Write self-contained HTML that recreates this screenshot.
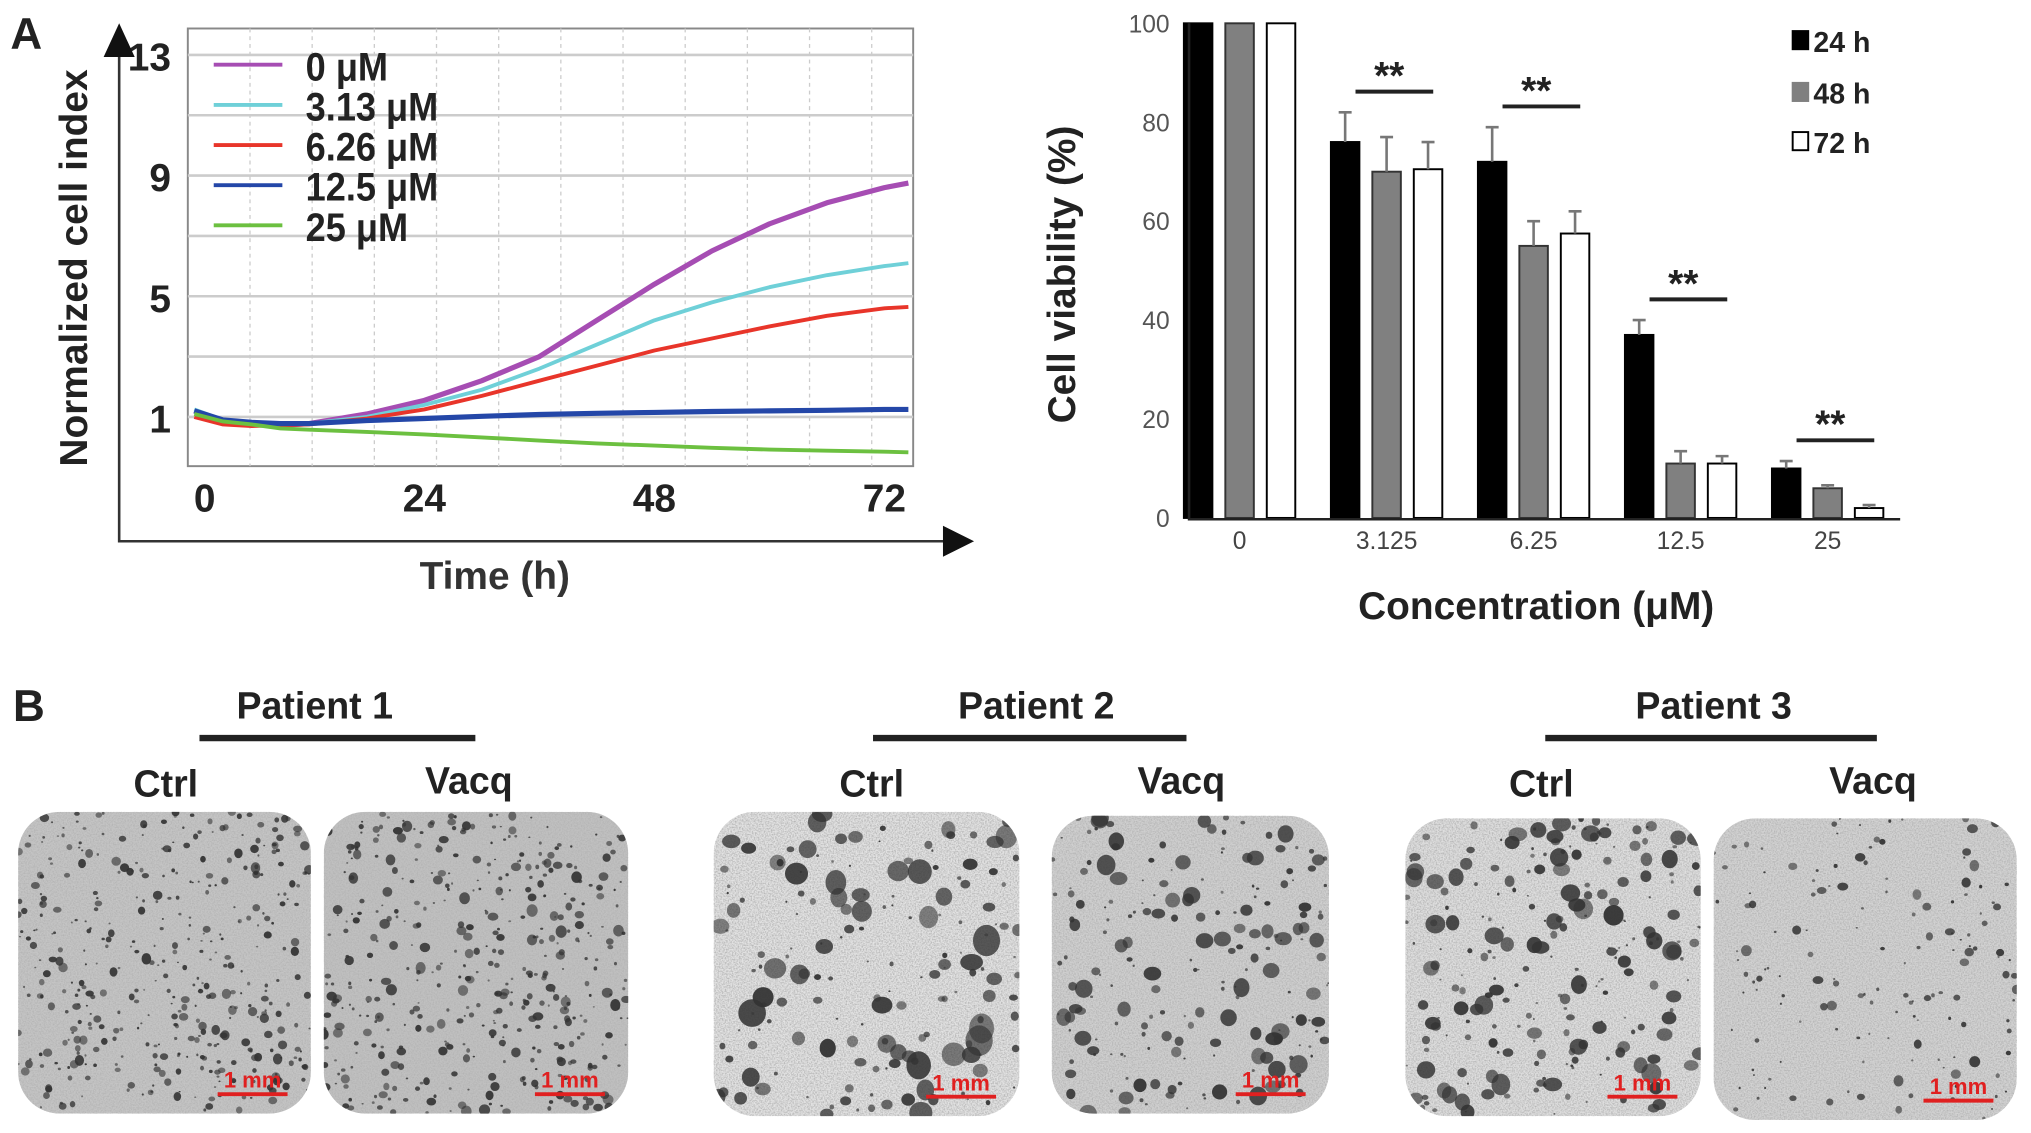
<!DOCTYPE html>
<html><head><meta charset="utf-8"><style>
html,body{margin:0;padding:0;background:#fff;}
svg{display:block;font-family:"Liberation Sans",Arial,sans-serif;}
</style></head><body>
<svg id="fig" width="2031" height="1133" viewBox="0 0 1568 875" preserveAspectRatio="none" xmlns="http://www.w3.org/2000/svg">
<defs>
<filter id="grain" x="0" y="0" width="100%" height="100%">
<feTurbulence type="fractalNoise" baseFrequency="0.9" numOctaves="2" seed="3" result="n"/>
<feColorMatrix type="matrix" values="0 0 0 0 0.45  0 0 0 0 0.45  0 0 0 0 0.45  0 0 0 -2.2 1.4"/>
</filter>
</defs>
<g id="panelA"></g>
<g id="bars"></g>
<g id="panelB"></g>
</svg>
<script>
// ---- Line chart data ----
const lineTimes = [0, 3, 6, 9, 12, 18, 24, 30, 36, 42, 48, 54, 60, 66, 72, 74.5];
const seriesNames = ["0 μM", "3.13 μM", "6.26 μM", "12.5 μM", "25 μM"];
const seriesColors = ["#a64db3", "#6fd0d8", "#e8352a", "#2447a8", "#6cc040"];
const s0 = [1.2, 0.85, 0.75, 0.72, 0.78, 1.1, 1.55, 2.2, 3.0, 4.2, 5.4, 6.5, 7.4, 8.1, 8.6, 8.75];
const s1 = [1.25, 0.9, 0.8, 0.75, 0.78, 1.0, 1.4, 1.9, 2.6, 3.4, 4.2, 4.8, 5.3, 5.7, 6.0, 6.1];
const s2 = [1.0, 0.75, 0.7, 0.72, 0.75, 0.95, 1.25, 1.7, 2.2, 2.7, 3.2, 3.6, 4.0, 4.35, 4.6, 4.65];
const s3 = [1.2, 0.9, 0.82, 0.78, 0.78, 0.88, 0.95, 1.02, 1.08, 1.12, 1.15, 1.18, 1.2, 1.22, 1.25, 1.25];
const s4 = [1.1, 0.85, 0.75, 0.62, 0.58, 0.5, 0.42, 0.32, 0.22, 0.12, 0.05, -0.02, -0.08, -0.12, -0.15, -0.17];
const lineTicksY = [1, 5, 9, 13];
const lineTicksX = [0, 24, 48, 72];
// ---- Bar chart data ----
const categories = ["0", "3.125", "6.25", "12.5", "25"];
const v24 = [100, 76, 72, 37, 10];
const v48 = [100, 70, 55, 11, 6];
const v72 = [100, 70.5, 57.5, 11, 2];
const e24 = [0, 6, 7, 3, 1.5];
const e48 = [0, 7, 5, 2.5, 0.6];
const e72 = [0, 5.5, 4.5, 1.5, 0.6];
const barTicks = [0, 20, 40, 60, 80, 100];
const sigCats = [1, 2, 3, 4];

const NS = "http://www.w3.org/2000/svg";
function mk(tag, attrs, parent, text) {
  const e = document.createElementNS(NS, tag);
  for (const k in attrs) e.setAttribute(k, attrs[k]);
  if (text !== undefined) e.textContent = text;
  parent.appendChild(e);
  return e;
}
const COND = "transform";
// ===== Panel A line chart =====
const A = document.getElementById("panelA");
const lx = t => 150 + t * 7.4;
const ly = v => 322 - (v - 1) * 23.3;
let t = mk("text", {x: 8, y: 38, "font-size": 34, "font-weight": "bold", fill: "#222"}, A, "A");
 
let fr = mk("rect", {x: 145, y: 22, width: 560, height: 338, fill: "#fff", stroke: "#888", "stroke-width": 1.5}, A);
 
for (let v = 1; v <= 13; v += 2) {
  const g = mk("line", {x1: 145, x2: 705, y1: ly(v), y2: ly(v), stroke: "#ccc", "stroke-width": 2}, A);
   
}
for (let k = 1; k < 12; k++) {
  const gx = 145 + k * 48;
  const g = mk("line", {x1: gx, x2: gx, y1: 22, y2: 360, stroke: "#ccc", "stroke-width": 1, "stroke-dasharray": "3,3"}, A);
   
}
const allS = [s0, s1, s2, s3, s4];
allS.forEach((s, i) => {
  const d = s.map((v, j) => (j ? "L" : "M") + lx(lineTimes[j]).toFixed(1) + "," + ly(v).toFixed(1)).join(" ");
  const p = mk("path", {d: d, fill: "none", stroke: seriesColors[i], "stroke-width": i === 0 || i === 3 ? 4 : 3, "stroke-linejoin": "round"}, A);
   
});
seriesNames.forEach((n, i) => {
  const yy = 50 + i * 31;
  const l = mk("line", {x1: 165, x2: 218, y1: yy, y2: yy, stroke: seriesColors[i], "stroke-width": 3}, A);
   
  const tx = mk("text", {x: 0, y: 0, "font-size": 31, "font-weight": "bold", fill: "#222", transform: `translate(236,${yy + 12}) scale(0.9,1)`}, A, n);
   
});
lineTicksY.forEach(v => {
  const tx = mk("text", {x: 132, y: ly(v) + 12, "font-size": 30, "font-weight": "bold", "text-anchor": "end", fill: "#222"}, A, v);
   
});
lineTicksX.forEach(v => {
  const tx = mk("text", {x: lx(v) + (v === 0 ? 8 : 0), y: 395, "font-size": 30, "font-weight": "bold", "text-anchor": "middle", fill: "#222"}, A, v);
   
});
let ax = mk("path", {d: "M92,42 L92,418 L735,418", fill: "none", stroke: "#333", "stroke-width": 2}, A);
 
mk("path", {d: "M80,44 L92,18 L104,44 Z", fill: "#111"}, A);
mk("path", {d: "M728,406 L752,418 L728,430 Z", fill: "#111"}, A);
t = mk("text", {x: 382, y: 455, "font-size": 30, "font-weight": "bold", "text-anchor": "middle", fill: "#333"}, A, "Time  (h)");
 
t = mk("text", {x: 0, y: 0, "font-size": 30, "font-weight": "bold", "text-anchor": "middle", fill: "#222", transform: "translate(67,207) rotate(-90)"}, A, "Normalized cell index");
 

// ===== Bar chart =====
const B = document.getElementById("bars");
const by = v => 400 - v * 3.82;
const bx = i => 957 + i * 113.5;
barTicks.forEach(v => {
  const tx = mk("text", {x: 903, y: by(v) + 7, "font-size": 19, "text-anchor": "end", fill: "#555"}, B, v);
   
});
const sets = [[v24, e24, "#000", "#000", "24h"], [v48, e48, "#808080", "#333", "48h"], [v72, e72, "#fff", "#000", "72h"]];
categories.forEach((c, i) => {
  sets.forEach((s, k) => {
    const cx = bx(i) + (k - 1) * 32;
    const v = s[0][i];
    const r = mk("rect", {x: cx - 11, y: by(v), width: 22, height: by(0) - by(v), fill: s[2], stroke: s[3], "stroke-width": 1.5}, B);
     
    if (s[1][i] > 0) {
      const ey = by(v + s[1][i]);
      const e = mk("path", {d: `M${cx},${by(v)} L${cx},${ey} M${cx - 5},${ey} L${cx + 5},${ey}`, stroke: "#777", "stroke-width": 2, fill: "none"}, B);
       
    }
  });
  const tx = mk("text", {x: bx(i), y: 424, "font-size": 19, "text-anchor": "middle", fill: "#444"}, B, c);
   
});
sigCats.forEach(i => {
  const top = Math.max(v24[i] + e24[i], v48[i] + e48[i], v72[i] + e72[i]);
  const yy = by(top) - 16;
  const l = mk("line", {x1: bx(i) - 24, x2: bx(i) + 36, y1: yy, y2: yy, stroke: "#222", "stroke-width": 3}, B);
   
  const s = mk("text", {x: bx(i) + 2, y: yy - 2, "font-size": 30, "font-weight": "bold", "text-anchor": "middle", fill: "#222"}, B, "**");
   
});
let bax = mk("path", {d: "M918,18 L918,401 L1467,401", fill: "none", stroke: "#222", "stroke-width": 2}, B);
 
[["#000", "#000", "24 h", 32], ["#808080", "#808080", "48 h", 72], ["#fff", "#000", "72 h", 110]].forEach(L => {
  const r = mk("rect", {x: 1384, y: L[3] - 8, width: 12, height: 14, fill: L[0], stroke: L[1], "stroke-width": 1.5}, B);
   
  const tx = mk("text", {x: 1400, y: L[3] + 8, "font-size": 22, "font-weight": "bold", fill: "#222"}, B, L[2]);
   
});
t = mk("text", {x: 1186, y: 478, "font-size": 30, "font-weight": "bold", "text-anchor": "middle", fill: "#222"}, B, "Concentration (μM)");
 
t = mk("text", {x: 0, y: 0, "font-size": 30, "font-weight": "bold", "text-anchor": "middle", fill: "#222", transform: "translate(830,212) rotate(-90)"}, B, "Cell viability (%)");
 

// ===== Panel B =====
const P = document.getElementById("panelB");
t = mk("text", {x: 10, y: 557, "font-size": 34, "font-weight": "bold", fill: "#222"}, P, "B");
 
const patients = [["Patient 1", 243, 154, 367, 128, 362], ["Patient 2", 800, 674, 916, 673, 912], ["Patient 3", 1323, 1193, 1449, 1190, 1446]];
patients.forEach(p => {
  let h = mk("text", {x: p[1], y: 555, "font-size": 29, "font-weight": "bold", "text-anchor": "middle", fill: "#222"}, P, p[0]);
   
  let l = mk("line", {x1: p[2], x2: p[3], y1: 570, y2: 570, stroke: "#222", "stroke-width": 5}, P);
   
  h = mk("text", {x: p[4], y: 615, "font-size": 29, "font-weight": "bold", "text-anchor": "middle", fill: "#222"}, P, "Ctrl");
   
  h = mk("text", {x: p[5], y: 613, "font-size": 29, "font-weight": "bold", "text-anchor": "middle", fill: "#222"}, P, "Vacq");
   
});
// x, y, w, h, dot count, max radius, bg
const wells = [[14, 627, 226, 233, 420, 3, "#c4c4c4"], [250, 627, 235, 233, 450, 3.5, "#c0c0c0"], [551, 627, 236, 235, 170, 10, "#e2e2e2"], [812, 630, 214, 230, 200, 6.5, "#cfcfcf"], [1085, 632, 228, 230, 230, 7, "#dedede"], [1323, 632, 234, 233, 150, 3.5, "#d2d2d2"]];
let seed = 7;
const rnd = () => { seed = (seed * 16807) % 2147483647; return seed / 2147483647; };
wells.forEach((w, i) => {
  const g = mk("g", {}, P);
   
  const cp = mk("clipPath", {id: "cp" + i}, g);
  mk("rect", {x: w[0], y: w[1], width: w[2], height: w[3], rx: 32}, cp);
  mk("rect", {x: w[0], y: w[1], width: w[2], height: w[3], fill: "#fff"}, g);
  const inner = mk("g", {"clip-path": `url(#cp${i})`}, g);
  mk("rect", {x: w[0], y: w[1], width: w[2], height: w[3], fill: w[6]}, inner);
  mk("rect", {x: w[0], y: w[1], width: w[2], height: w[3], filter: "url(#grain)"}, inner);
  for (let k = 0; k < w[4]; k++) {
    const r = 0.8 + Math.pow(rnd(), 2) * w[5];
    mk("ellipse", {cx: w[0] + rnd() * w[2], cy: w[1] + rnd() * w[3], rx: r, ry: r * (0.7 + rnd() * 0.5), fill: "#333", opacity: 0.55 + rnd() * 0.4}, inner);
  }
  const sx = w[0] + w[2] - 72, sy = w[1] + w[3] - 15;
  const sl = mk("line", {x1: sx, x2: sx + 54, y1: sy, y2: sy, stroke: "#e02020", "stroke-width": 3}, g);
   
  const st = mk("text", {x: sx + 27, y: sy - 5, "font-size": 17, "font-weight": "bold", "text-anchor": "middle", fill: "#e02020"}, g, "1 mm");
   
});
</script>
</body></html>
